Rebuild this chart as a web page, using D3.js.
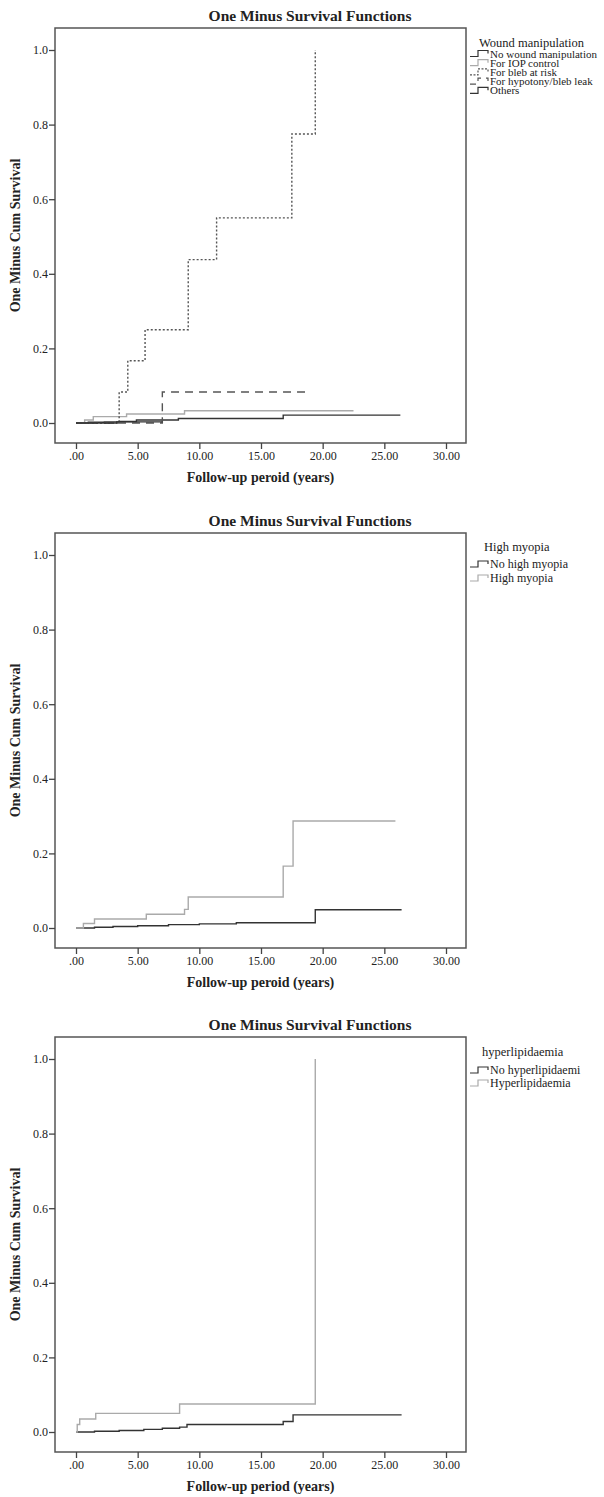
<!DOCTYPE html>
<html>
<head>
<meta charset="utf-8">
<script src="https://cdn.jsdelivr.net/npm/d3@7"></script>
<style>
body { margin: 0; background: #fff; }
text { font-family: "Liberation Serif", "DejaVu Serif", serif; fill: #222; }
</style>
</head>
<body>
<div id="chart"></div>
<script>
var w = 604,
    h = 1497;

// tick labels
var xTicks = [0, 5, 10, 15, 20, 25, 30];
var yTicks = [0, 0.2, 0.4, 0.6, 0.8, 1.0];

// panel 1: wound manipulation
var woundLabels = ["No wound manipulation", "For IOP control", "For bleb at risk", "For hypotony/bleb leak", "Others"];
var noWoundT = [0, 1.0, 2.3, 3.5, 4.9, 8.3, 16.8, 26.3];
var noWoundV = [0, 0.002, 0.003, 0.004, 0.008, 0.012, 0.021, 0.021];
var iopT = [0, 0.7, 1.4, 4.1, 8.8, 22.5];
var iopV = [0, 0.008, 0.017, 0.024, 0.033, 0.033];
var blebRiskT = [0, 3.5, 4.2, 5.6, 9.1, 11.4, 17.5, 19.4];
var blebRiskV = [0, 0.083, 0.167, 0.25, 0.438, 0.55, 0.775, 1.0];
var hypotonyT = [0, 7.0, 18.7];
var hypotonyV = [0, 0.083, 0.083];
var othersT = [0, 3.3, 7.0];
var othersV = [0, 0.003, 0.003];

// panel 2: high myopia
var myopiaLabels = ["No high myopia", "High myopia"];
var noMyopiaT = [0, 1.5, 3.0, 5.0, 7.5, 10.0, 13.0, 19.4, 26.4];
var noMyopiaV = [0, 0.002, 0.004, 0.006, 0.009, 0.011, 0.014, 0.049, 0.049];
var myopiaT = [0, 0.6, 1.5, 5.7, 8.8, 9.1, 16.8, 17.6, 25.9];
var myopiaV = [0, 0.012, 0.024, 0.037, 0.05, 0.083, 0.166, 0.287, 0.287];

// panel 3: hyperlipidaemia
var lipidLabels = ["No hyperlipidaemi", "Hyperlipidaemia"];
var noLipidT = [0, 1.5, 3.5, 5.5, 7.0, 8.4, 9.0, 16.8, 17.6, 26.4];
var noLipidV = [0, 0.002, 0.004, 0.007, 0.010, 0.013, 0.020, 0.028, 0.046, 0.046];
var lipidT = [0, 0.1, 0.3, 1.6, 8.4, 19.4];
var lipidV = [0, 0.02, 0.035, 0.05, 0.075, 1.0];

var styles = {
    dark: {stroke: "#333", dash: null, width: 1.4},
    gray: {stroke: "#aaa", dash: null, width: 1.4},
    dotted: {stroke: "#555", dash: "2,2", width: 1.4},
    dashed: {stroke: "#555", dash: "8,6", width: 1.4}
};

function zip(t, v) {
    return t.map(function (d, i) { return [d, v[i]]; });
}

var panels = [
    {
        top: 0, xTitle: "Follow-up peroid (years)", legendTitle: "Wound manipulation",
        legend: {x: 470, tx: 479, title: 47, first: 57.5, step: 9.2, size: 11},
        series: [
            {label: woundLabels[0], data: zip(noWoundT, noWoundV), style: "dark"},
            {label: woundLabels[1], data: zip(iopT, iopV), style: "gray"},
            {label: woundLabels[2], data: zip(blebRiskT, blebRiskV), style: "dotted"},
            {label: woundLabels[3], data: zip(hypotonyT, hypotonyV), style: "dashed"},
            {label: woundLabels[4], data: zip(othersT, othersV), style: "dark"}
        ]
    },
    {
        top: 505, xTitle: "Follow-up peroid (years)", legendTitle: "High myopia",
        legend: {x: 470, tx: 484, title: 46, first: 63, step: 14, size: 12},
        series: [
            {label: myopiaLabels[0], data: zip(noMyopiaT, noMyopiaV), style: "dark"},
            {label: myopiaLabels[1], data: zip(myopiaT, myopiaV), style: "gray"}
        ]
    },
    {
        top: 1009, xTitle: "Follow-up period (years)", legendTitle: "hyperlipidaemia",
        legend: {x: 470, tx: 482, title: 47, first: 65, step: 13, size: 12},
        series: [
            {label: lipidLabels[0], data: zip(noLipidT, noLipidV), style: "dark"},
            {label: lipidLabels[1], data: zip(lipidT, lipidV), style: "gray"}
        ]
    }
];

var frame = {left: 55, right: 466, top: 28, bottom: 443};

var x = d3.scaleLinear().domain([0, 30]).range([76, 446]);
var y = d3.scaleLinear().domain([0, 1]).range([423, 50]);

var svg = d3.select("#chart").append("svg")
    .attr("width", w)
    .attr("height", h);

svg.append("rect").attr("width", w).attr("height", h).attr("fill", "#fff");

var line = d3.line()
    .x(function (d) { return x(d[0]); })
    .y(function (d) { return y(d[1]); })
    .curve(d3.curveStepAfter);

panels.forEach(function (p) {
    var g = svg.append("g").attr("transform", "translate(0," + p.top + ")");

    g.append("text")
        .attr("x", 310)
        .attr("y", 21)
        .attr("text-anchor", "middle")
        .style("font-size", "15.5px")
        .style("font-weight", "bold")
        .text("One Minus Survival Functions");

    g.append("rect")
        .attr("x", frame.left)
        .attr("y", frame.top)
        .attr("width", frame.right - frame.left)
        .attr("height", frame.bottom - frame.top)
        .attr("fill", "none")
        .attr("stroke", "#555")
        .attr("stroke-width", 1.5);

    var yAxis = g.append("g")
        .attr("transform", "translate(" + frame.left + ",0)")
        .call(d3.axisLeft(y).tickValues(yTicks).tickSize(6).tickPadding(1)
            .tickFormat(d3.format(".1f")));

    var xAxis = g.append("g")
        .attr("transform", "translate(0," + frame.bottom + ")")
        .call(d3.axisBottom(x).tickValues(xTicks).tickSize(6).tickPadding(2)
            .tickFormat(function (d) { return d === 0 ? ".00" : d3.format(".2f")(d); }));

    [xAxis, yAxis].forEach(function (a) {
        a.select(".domain").remove();
        a.selectAll("line").attr("stroke", "#444").attr("stroke-width", 1.3);
        a.selectAll("text")
            .style("font-family", "'Liberation Serif', serif")
            .style("font-size", "12px")
            .attr("fill", "#222");
    });

    g.append("text")
        .attr("x", (frame.left + frame.right) / 2)
        .attr("y", 482)
        .attr("text-anchor", "middle")
        .style("font-size", "14px")
        .style("font-weight", "bold")
        .text(p.xTitle);

    g.append("text")
        .attr("transform", "translate(20," + ((frame.top + frame.bottom) / 2) + ") rotate(-90)")
        .attr("text-anchor", "middle")
        .style("font-size", "14px")
        .style("font-weight", "bold")
        .text("One Minus Cum Survival");

    g.selectAll("path.curve")
        .data(p.series)
        .enter()
        .append("path")
        .attr("class", "curve")
        .attr("d", function (d) { return line(d.data); })
        .attr("fill", "none")
        .attr("stroke", function (d) { return styles[d.style].stroke; })
        .attr("stroke-width", function (d) { return styles[d.style].width; })
        .attr("stroke-dasharray", function (d) { return styles[d.style].dash; });

    // legend
    var L = p.legend;
    g.append("text")
        .attr("x", L.tx)
        .attr("y", L.title)
        .style("font-size", "12.5px")
        .text(p.legendTitle);

    var item = g.selectAll("g.item")
        .data(p.series)
        .enter()
        .append("g")
        .attr("class", "item")
        .attr("transform", function (d, i) {
            return "translate(" + L.x + "," + (L.first + i * L.step) + ")";
        });

    item.append("path")
        .attr("d", "M0,-1H8V-7H18V-4")
        .attr("fill", "none")
        .attr("stroke", function (d) { return styles[d.style].stroke; })
        .attr("stroke-width", 1.2)
        .attr("stroke-dasharray", function (d) {
            return d.style === "dotted" ? "2,1.5" : d.style === "dashed" ? "6,5" : null;
        });

    item.append("text")
        .attr("x", 20)
        .attr("y", 0)
        .style("font-size", L.size + "px")
        .text(function (d) { return d.label; });
});
</script>
</body>
</html>
